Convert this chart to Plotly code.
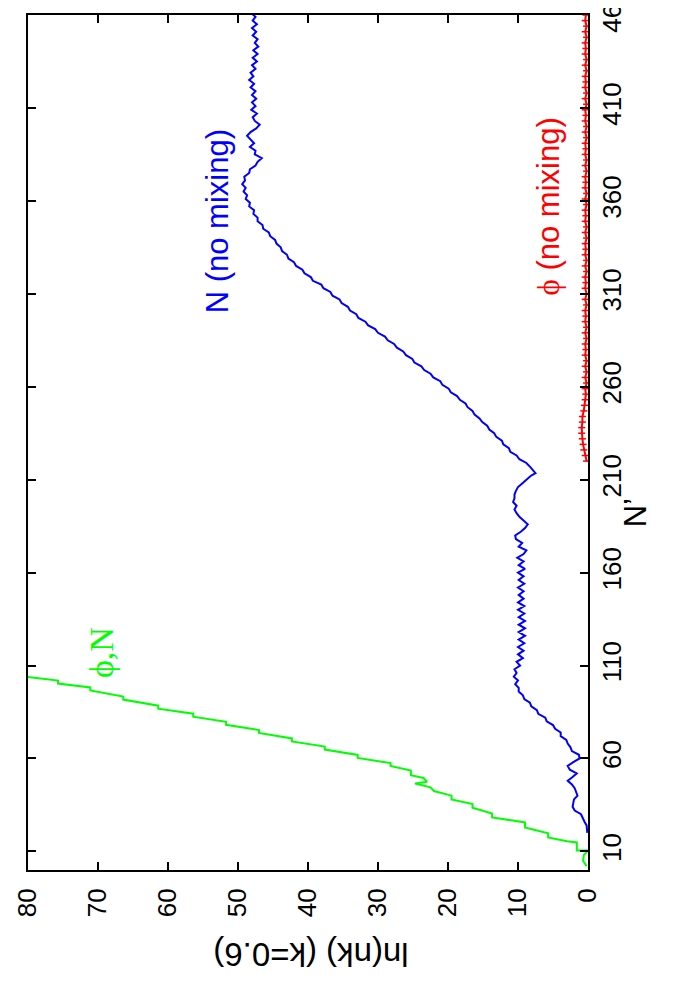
import plotly.graph_objects as go

# ---- data: N' (vertical axis) and ln(nk) (horizontal, reversed) ----
blue_n = [20, 22, 24, 26, 28, 30, 32, 34, 36, 38, 40, 42, 44, 46, 48, 50, 52, 54, 56, 58,
          60, 62, 64, 66, 68, 70, 72, 74, 76, 78, 80, 82, 84, 86, 88, 90, 92, 94, 96, 98,
          100, 102, 104, 106, 108, 110, 112, 114, 116, 118, 120, 122, 124, 126, 128, 130,
          132, 134, 136, 138, 140, 142, 144, 146, 148, 150, 152, 154, 156, 158, 160, 162,
          164, 166, 168, 170, 172, 174, 176, 178, 180, 182, 184, 186, 188, 190, 192, 194,
          196, 198, 200, 202, 204, 206, 208, 210, 212, 213.5, 215, 217, 219, 221, 223, 225,
          227, 229, 231, 233, 235, 237, 239, 241, 243, 245, 247, 249, 251, 253, 255, 257,
          259, 261, 263, 265, 267, 269, 271, 273, 275, 277, 279, 281, 283, 285, 287, 289,
          291, 293, 295, 297, 299, 301, 303, 305, 307, 309, 311, 313, 315, 317, 319, 321,
          323, 325, 327, 329, 331, 333, 335, 337, 339, 341, 343, 345, 347, 349, 351, 353,
          355, 357, 359, 361, 363, 365, 367, 369, 371, 373, 375, 377, 379, 381, 383, 385,
          387, 389, 391, 393, 395, 397, 399, 401, 403, 405, 407, 409, 411, 413, 415, 417,
          419, 421, 423, 425, 427, 429, 431, 433, 435, 437, 439, 441, 443, 445, 447, 449,
          451, 453, 455, 457, 459, 461]
blue_ln = [0.1, 0.1, 0.2, 0.5, 0.7, 1.0, 1.9, 2.2, 2.1, 2.0, 1.5, 1.7, 1.9, 2.3, 2.9, 2.2, 1.6, 2.6, 2.9, 2.1,
           1.2, 1.3, 2.3, 2.5, 2.9, 3.1, 3.9, 3.9, 4.7, 5.0, 5.9, 6.1, 7.1, 7.3, 8.1, 8.3, 9.1, 9.3, 9.9, 9.9,
           10.4, 10.0, 10.6, 10.2, 10.5, 9.7, 10.2, 9.3, 10.0, 9.2, 10.0, 9.1, 9.9, 9.0, 9.9, 9.0,
           9.9, 9.0, 9.9, 9.1, 10.0, 9.1, 10.0, 9.2, 9.9, 9.2, 10.0, 9.1, 9.9, 9.2, 10.0, 9.0,
           9.9, 9.2, 10.1, 9.2, 8.8, 9.9, 9.4, 10.3, 10.4, 9.6, 9.0, 8.6, 9.2, 9.8, 10.2, 10.5,
           10.2, 10.7, 10.5, 10.5, 10.3, 10.0, 9.4, 8.8, 8.2, 7.5, 7.8, 8.3, 8.8, 9.8, 10.2, 11.1,
           11.3, 12.1, 12.3, 13.1, 13.4, 14.1, 14.4, 15.1, 15.5, 16.2, 16.5, 17.2, 17.5, 18.3, 18.7, 19.6,
           19.9, 20.8, 21.1, 22.1, 22.5, 23.4, 23.8, 24.8, 25.1, 26.0, 26.4, 27.3, 27.7, 28.6, 29.0, 30.0,
           30.4, 31.4, 31.8, 32.8, 33.1, 34.0, 34.3, 35.2, 35.5, 36.5, 36.8, 37.8, 38.1, 39.3, 39.6, 40.5,
           40.8, 41.7, 42.0, 42.8, 43.0, 43.7, 43.9, 44.5, 44.7, 45.4, 45.6, 46.4, 46.5, 47.2, 47.2, 47.8,
           47.7, 48.4, 48.3, 48.9, 48.7, 49.2, 48.9, 49.4, 49.0, 49.1, 48.4, 48.3, 47.5, 47.2, 46.6, 47.6,
           47.5, 48.3, 47.7, 48.2, 48.7, 48.2, 47.4, 46.9, 47.6, 47.9, 47.3, 48.1, 47.5, 48.0, 47.4, 48.0,
           47.5, 48.2, 47.7, 48.4, 47.8, 48.2, 47.5, 48.0, 47.3, 47.9, 47.2, 47.8, 47.1, 47.6, 47.2, 47.9,
           47.4, 48.0, 47.3, 47.9, 47.5, 48.1]

green_n = [2, 5, 8, 10.5, 10.5, 14.8, 15.5, 17.5, 19.7, 22.9, 25.6, 28.3, 30.4, 32.1, 33.5, 35.5,
           38.0, 40.0, 42.5, 44.5, 46.5, 47.5, 49.5, 51.0, 53.5, 56.0, 57.5, 60.3, 61.9, 64.8, 66.4,
           69.2, 70.8, 73.7, 75.3, 78.1, 79.7, 82.5, 84.1, 86.8, 88.4, 91.7, 93.3, 96.6, 98.2,
           100.3, 101.9, 103.8, 104.8]
green_ln = [0.2, 0.7, 0.6, 0.0, 1.6, 1.6, 3.0, 5.7, 5.7, 9.0, 9.0, 13.7, 13.7, 15.4, 16.5, 16.5,
            19.5, 19.5, 22.0, 22.5, 24.7, 23.0, 23.5, 25.3, 25.3, 28.2, 28.2, 32.9, 32.9, 37.6, 37.6,
            42.3, 42.3, 47.0, 47.0, 51.7, 51.7, 56.4, 56.4, 61.4, 61.4, 66.4, 66.4, 71.1, 71.1,
            75.7, 75.7, 80.0, 82.0]

red_n = [220, 223, 226, 229, 232, 235, 238, 241, 244, 247, 250, 253, 256, 259, 262, 265, 268,
         271, 274, 277, 280, 283, 286, 289, 292, 295, 298, 301, 304, 307, 310, 313, 316, 319,
         322, 325, 328, 331, 334, 337, 340, 343, 346, 349, 352, 355, 358, 361, 364, 367, 370,
         373, 376, 379, 382, 385, 388, 391, 394, 397, 400, 403, 406, 409, 412, 415, 418, 421,
         424, 427, 430, 433, 436, 439, 442, 445, 448, 451, 454, 457, 460]
red_ln = [0.2, 0.4, 0.6, 0.7, 0.8, 0.9, 0.9, 0.8, 0.8, 0.6, 0.5, 0.4, 0.3, 0.4, 0.2, 0.4, 0.2,
          0.4, 0.2, 0.4, 0.3, 0.4, 0.2, 0.4, 0.2, 0.4, 0.3, 0.4, 0.2, 0.4, 0.2, 0.4, 0.3, 0.4,
          0.2, 0.4, 0.2, 0.4, 0.3, 0.4, 0.2, 0.4, 0.2, 0.4, 0.3, 0.4, 0.2, 0.4, 0.2, 0.4, 0.3,
          0.4, 0.2, 0.4, 0.2, 0.4, 0.3, 0.4, 0.2, 0.4, 0.2, 0.4, 0.3, 0.4, 0.2, 0.4, 0.2, 0.4,
          0.3, 0.4, 0.2, 0.4, 0.2, 0.4, 0.3, 0.4, 0.2, 0.4, 0.2, 0.4, 0.3]

n_ticks = [10, 60, 110, 160, 210, 260, 310, 360, 410, 460]
ln_ticks = [0, 10, 20, 30, 40, 50, 60, 70, 80]

SANS = "Liberation Sans, Arial, sans-serif"
SERIF = "Liberation Serif, Times New Roman, serif"

fig = go.Figure()
fig.add_trace(go.Scatter(x=green_ln, y=green_n, mode="lines",
                         line=dict(color="#00ff00", width=2), showlegend=False))
fig.add_trace(go.Scatter(x=blue_ln, y=blue_n, mode="lines",
                         line=dict(color="#0000ff", width=2), showlegend=False))
fig.add_trace(go.Scatter(x=red_ln, y=red_n, mode="lines+markers",
                         line=dict(color="#ff0000", width=2),
                         marker=dict(symbol="line-ew", size=5, color="#ff0000",
                                     line=dict(color="#ff0000", width=1.5)),
                         showlegend=False))

axis_common = dict(showline=True, linecolor="black", linewidth=2, mirror="ticks",
                   ticks="inside", ticklen=8, tickwidth=2, tickcolor="black",
                   showgrid=False, zeroline=False, tickangle=-90, automargin=False,
                   ticklabeloverflow="allow",
                   tickfont=dict(family=SANS, size=26, color="black"))

fig.update_xaxes(range=[80, 0], tickvals=ln_ticks, ticktext=[str(v) for v in ln_ticks],
                 ticklabelstandoff=6, **axis_common)
fig.update_yaxes(range=[0, 460], tickvals=n_ticks, ticktext=[str(v) for v in n_ticks],
                 side="right", **axis_common)

ann = [
    dict(x=69.4, y=116.8, xref="x", yref="y", text="ϕ,N", textangle=-90, showarrow=False,
         font=dict(family=SERIF, size=34, color="#00ff00")),
    dict(x=53.0, y=349, xref="x", yref="y", text="N (no mixing)", textangle=-90, showarrow=False,
         font=dict(family=SANS, size=31, color="#0000ff")),
    dict(x=5.7, y=357, xref="x", yref="y",
         text="<span style='font-family:Liberation Serif'>ϕ</span> (no mixing)",
         textangle=-90, showarrow=False,
         font=dict(family=SANS, size=31, color="#ff0000")),
    dict(x=0.505, y=-0.123, xref="paper", yref="paper", text="ln(nk) (k=0.6)", textangle=180,
         showarrow=False, font=dict(family=SANS, size=33, color="black")),
    dict(x=1.12, y=0.418, xref="paper", yref="paper", text="N’", textangle=-90,
         showarrow=False, font=dict(family=SANS, size=31, color="black")),
]

# the page body adds an 8 px offset, so margins are reduced by 8 on the left/top
fig.update_layout(width=700, height=1000, margin=dict(l=20, r=120, t=7, b=138),
                  paper_bgcolor="white", plot_bgcolor="white", annotations=ann)

fig.write_html("out.html")
